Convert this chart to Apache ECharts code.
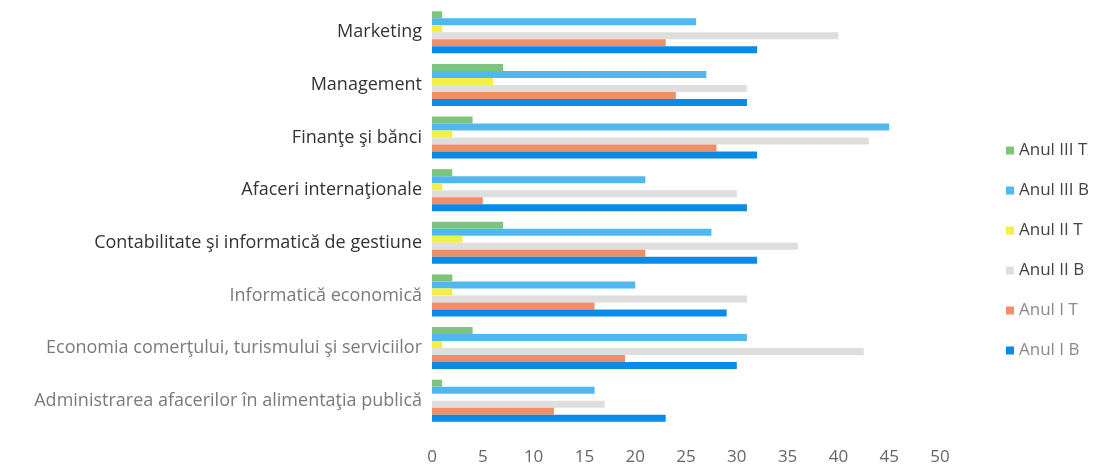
<!DOCTYPE html>
<html><head><meta charset="utf-8">
<script src="https://cdn.jsdelivr.net/npm/echarts@6/dist/echarts.min.js"></script>
<style>html,body{margin:0;padding:0;background:#fff}#c{width:1095px;height:475px}</style>
</head><body><div id="c"></div>
<script>
const categories = [
  "Marketing",
  "Management",
  "Finanţe şi bănci",
  "Afaceri internaţionale",
  "Contabilitate şi informatică de gestiune",
  "Informatică economică",
  "Economia comerţului, turismului şi serviciilor",
  "Administrarea afacerilor în alimentaţia publică"
];
const seriesNames = ["Anul III T", "Anul III B", "Anul II T", "Anul II B", "Anul I T", "Anul I B"];
const anulIIIT = [1, 7, 4, 2, 7, 2, 4, 1];
const anulIIIB = [26, 27, 45, 21, 27.5, 20, 31, 16];
const anulIIT  = [1, 6, 2, 1, 3, 2, 1, 0];
const anulIIB  = [40, 31, 43, 30, 36, 31, 42.5, 17];
const anulIT   = [23, 24, 28, 5, 21, 16, 19, 12];
const anulIB   = [32, 31, 32, 31, 32, 29, 30, 23];
const xTicks = [0, 5, 10, 15, 20, 25, 30, 35, 40, 45, 50];

const colors = ["#7cc57a", "#4fb9ef", "#f2ef45", "#dedede", "#f28e66", "#0b8be6"];
const values = [anulIIIT, anulIIIB, anulIIT, anulIIB, anulIT, anulIB];
const chart = echarts.init(document.getElementById('c'));
chart.setOption({
  animation: false,
  color: colors,
  textStyle: { fontFamily: "Open Sans" },
  grid: { left: 432, right: 155, top: 6, bottom: 48 },
  legend: {
    orient: 'vertical', left: 1001, top: 135,
    itemWidth: 8, itemHeight: 8, itemGap: 19, icon: 'rect',
    textStyle: { fontSize: 17, color: '#444', lineHeight: 21 },
    data: seriesNames.map((n, i) => ({ name: n, textStyle: { color: i >= 4 ? '#8a8a8a' : '#444' } }))
  },
  xAxis: {
    type: 'value', min: xTicks[0], max: xTicks[xTicks.length - 1], interval: 5,
    axisLine: { show: false }, axisTick: { show: false }, splitLine: { show: false },
    axisLabel: { fontSize: 17, color: '#666', margin: 22 }
  },
  yAxis: {
    type: 'category', data: categories, inverse: true,
    axisLine: { show: false }, axisTick: { show: false },
    axisLabel: { fontSize: 18, margin: 10, color: (v, i) => i >= 5 ? '#7a7a7a' : '#333' }
  },
  series: seriesNames.map((n, i) => ({
    name: n, type: 'bar', data: values[i], barWidth: 7, barGap: '0%'
  }))
});
</script></body></html>
